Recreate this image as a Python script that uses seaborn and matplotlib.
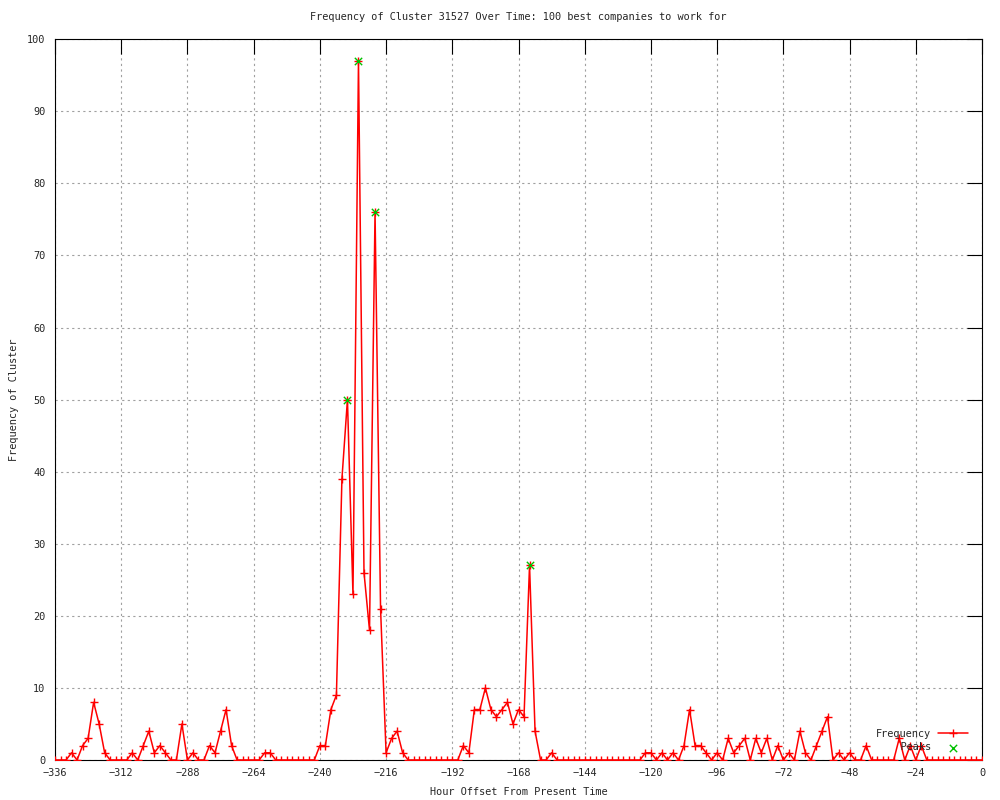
import matplotlib
matplotlib.use("Agg")
import matplotlib.pyplot as plt
import pandas as pd
import seaborn as sns

# hour offsets (2-hour bins) and cluster counts
hours = list(range(-336, 1, 2))
frequency = [
    0, 0, 0, 1, 0, 2, 3, 8, 5, 1, 0, 0,        # -336 .. -314
    0, 0, 1, 0, 2, 4, 1, 2, 1, 0, 0, 5,        # -312 .. -290
    0, 1, 0, 0, 2, 1, 4, 7, 2, 0, 0, 0,        # -288 .. -266
    0, 0, 1, 1, 0, 0, 0, 0, 0, 0, 0, 0,        # -264 .. -242
    2, 2, 7, 9, 39, 50, 23, 97, 26, 18, 76, 21,  # -240 .. -218
    1, 3, 4, 1, 0, 0, 0, 0, 0, 0, 0, 0,        # -216 .. -194
    0, 0, 2, 1, 7, 7, 10, 7, 6, 7, 8, 5,       # -192 .. -170
    7, 6, 27, 4, 0, 0, 1, 0, 0, 0, 0, 0,       # -168 .. -146
    0, 0, 0, 0, 0, 0, 0, 0, 0, 0, 0, 1,        # -144 .. -122
    1, 0, 1, 0, 1, 0, 2, 7, 2, 2, 1, 0,        # -120 .. -98
    1, 0, 3, 1, 2, 3, 0, 3, 1, 3, 0, 2,        # -96 .. -74
    0, 1, 0, 4, 1, 0, 2, 4, 6, 0, 1, 0,        # -72 .. -50
    1, 0, 0, 2, 0, 0, 0, 0, 0, 3, 0, 2,        # -48 .. -26
    0, 2, 0, 0, 0, 0, 0, 0, 0, 0, 0, 0,        # -24 .. -2
    0,                                         # 0
]
peak_hours = [-230, -226, -220, -164]
peak_values = [50, 97, 76, 27]

x_ticks = list(range(-336, 1, 24))
y_ticks = list(range(0, 101, 10))

df = pd.DataFrame({"Hour": hours, "Frequency": frequency})
peaks = pd.DataFrame({"Hour": peak_hours, "Frequency": peak_values})

sns.set_style("white")
plt.rcParams["font.family"] = ["DejaVu Sans Mono", "DejaVu Sans"]
plt.rcParams["font.size"] = 7.4

fig = plt.figure(figsize=(10, 8), dpi=100)
ax = fig.add_axes([0.055, 0.05, 0.927, 0.901])

sns.lineplot(data=df, x="Hour", y="Frequency", ax=ax, color="red",
             linewidth=1.1, marker="+", markersize=6, markeredgewidth=1.0,
             markeredgecolor="red", label="Frequency", zorder=3)
sns.scatterplot(data=peaks, x="Hour", y="Frequency", ax=ax, marker="x",
                color="#00c000", s=28, linewidth=1.0, label="    Peaks", zorder=4)

ax.set_xlim(-336, 0)
ax.set_ylim(0, 100)
ax.set_xticks(x_ticks)
ax.set_yticks(y_ticks)
ax.grid(True, color="#a0a0a0", linestyle=(0, (2, 3)), linewidth=0.8)
ax.tick_params(direction="in", length=11, width=0.8, top=True, right=True,
               labelsize=7.4, color="black")
ax.tick_params(axis="x", pad=6)
ax.tick_params(axis="y", pad=7)
for s in ax.spines.values():
    s.set_color("black")
    s.set_linewidth(0.8)

ax.set_title("Frequency of Cluster 31527 Over Time: 100 best companies to work for",
             fontsize=7.4, pad=14)
ax.set_xlabel("Hour Offset From Present Time", fontsize=7.4, labelpad=6)
ax.set_ylabel("Frequency of Cluster", fontsize=7.4, labelpad=6)

ax.legend(loc="lower right", bbox_to_anchor=(0.992, 0.002), frameon=False,
          markerfirst=False, handlelength=3.0, handletextpad=0.6,
          labelspacing=0.35, fontsize=7.4, borderaxespad=0.2)

fig.savefig("out.png", dpi=100)
